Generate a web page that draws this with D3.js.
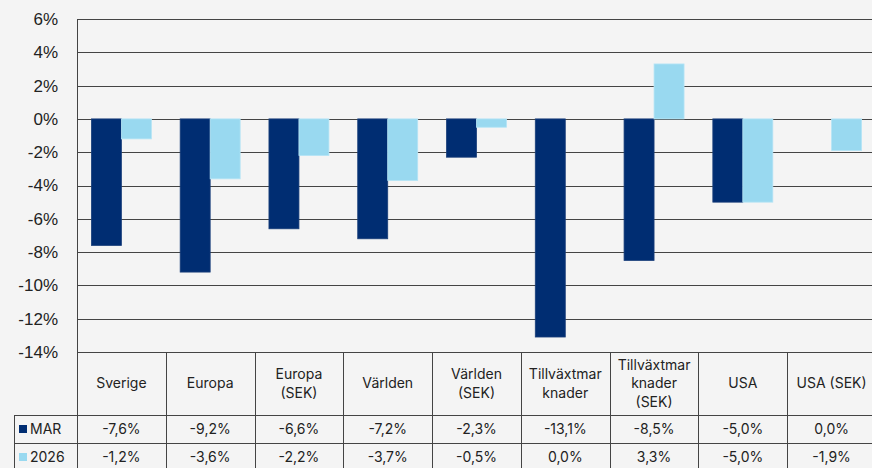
<!DOCTYPE html>
<html>
<head>
<meta charset="utf-8">
<script src="https://cdn.jsdelivr.net/npm/d3@7"></script>
<style>
  body { margin: 0; background: #f4f4f4; overflow: hidden; }
  svg { display: block; }
</style>
</head>
<body>
<div id="chart"></div>
<script>
// Chart size
const width = 872;
const height = 468;
const margin = {left: 77, right: -4, top: 19, bottom: 116};

// Data
const categories = [
  ["Sverige"], ["Europa"], ["Europa", "(SEK)"], ["Världen"], ["Världen", "(SEK)"],
  ["Tillväxtmar", "knader"], ["Tillväxtmar", "knader", "(SEK)"], ["USA"], ["USA (SEK)"]
];
const seriesNames = ["MAR", "2026"];
const marValues = [-7.6, -9.2, -6.6, -7.2, -2.3, -13.1, -8.5, -5.0, 0.0];
const y2026Values = [-1.2, -3.6, -2.2, -3.7, -0.5, 0.0, 3.3, -5.0, -1.9];
const yTicks = [6, 4, 2, 0, -2, -4, -6, -8, -10, -12, -14];
const colors = ["#002d72", "#99d9f0"];

const series = [marValues, y2026Values];
const fmt = v => v.toFixed(1).replace(".", ",") + "%";

const svg = d3.select("#chart")
  .append("svg")
  .attr("width", width)
  .attr("height", height);

// Scales
const yScale = d3.scaleLinear()
  .domain([-14, 6])
  .range([height - margin.bottom, margin.top]);

const xScale = d3.scaleBand()
  .domain(d3.range(categories.length))
  .range([margin.left, width - margin.right]);

const xInner = d3.scaleBand()
  .domain(d3.range(series.length))
  .range([0, xScale.bandwidth()])
  .paddingOuter(0.48);

// Gridlines
svg.append("g")
  .selectAll("line")
  .data(yTicks)
  .join("line")
    .attr("x1", margin.left)
    .attr("x2", width)
    .attr("y1", d => Math.round(yScale(d)) + 0.5)
    .attr("y2", d => Math.round(yScale(d)) + 0.5)
    .attr("stroke", "#444")
    .attr("stroke-width", 1);

// Y axis labels
const yAxis = svg.append("g")
  .attr("transform", `translate(${margin.left}, 0)`)
  .call(d3.axisLeft(yScale).tickValues(yTicks).tickSize(0).tickPadding(19).tickFormat(d => d + "%"));
yAxis.select(".domain").remove();
yAxis.selectAll("text")
  .attr("font-family", "Liberation Sans, Arial, sans-serif")
  .attr("font-size", "17px")
  .attr("fill", "#222");

// Bars
series.forEach((vals, s) => {
  svg.append("g")
    .selectAll("rect")
    .data(vals)
    .join("rect")
      .attr("x", (d, i) => xScale(i) + xInner(s))
      .attr("width", xInner.bandwidth())
      .attr("y", d => yScale(Math.max(0, d)))
      .attr("height", d => Math.abs(yScale(d) - yScale(0)))
      .attr("fill", colors[s])
      .attr("stroke", s === 0 ? "#1a3f7a" : "#b5e4f5")
      .attr("stroke-width", 0.8);
});

// Left axis line
svg.append("line")
  .attr("x1", margin.left + 0.5).attr("x2", margin.left + 0.5)
  .attr("y1", yScale(6)).attr("y2", height)
  .attr("stroke", "#444");

// Data table
const tableTop = yScale(-14);
const headerBottom = 415;
const rowH = 28;
const rowTops = [headerBottom, headerBottom + rowH];
const legendLeft = 14;
const tableFont = "Inter, 'Noto Sans', sans-serif";

const table = svg.append("g").attr("font-family", tableFont).attr("fill", "#222");

// Vertical lines between columns
table.selectAll(".vline")
  .data(d3.range(categories.length + 1))
  .join("line")
    .attr("class", "vline")
    .attr("x1", i => Math.round(margin.left + i * xScale.bandwidth()) + 0.5)
    .attr("x2", i => Math.round(margin.left + i * xScale.bandwidth()) + 0.5)
    .attr("y1", tableTop)
    .attr("y2", height)
    .attr("stroke", "#444");

// Horizontal lines
[headerBottom, headerBottom + rowH].forEach(y => {
  table.append("line")
    .attr("x1", legendLeft).attr("x2", width)
    .attr("y1", y + 0.5).attr("y2", y + 0.5)
    .attr("stroke", "#444");
});
table.append("line")
  .attr("x1", legendLeft + 0.5).attr("x2", legendLeft + 0.5)
  .attr("y1", headerBottom).attr("y2", height)
  .attr("stroke", "#444");

// Category labels
const lineH = 18.5;
categories.forEach((lines, i) => {
  const cx = xScale(i) + xScale.bandwidth() / 2;
  const cy = (tableTop + headerBottom) / 2;
  const t = table.append("text")
    .attr("text-anchor", "middle")
    .attr("font-size", "14px");
  lines.forEach((ln, k) => {
    t.append("tspan")
      .attr("x", cx)
      .attr("y", cy + (k - (lines.length - 1) / 2) * lineH)
      .attr("dy", "0.35em")
      .text(ln);
  });
});

// Series rows
series.forEach((vals, s) => {
  const cy = rowTops[s] + rowH / 2;
  table.append("rect")
    .attr("x", 19).attr("y", cy - 4)
    .attr("width", 8).attr("height", 8)
    .attr("fill", colors[s]);
  table.append("text")
    .attr("x", 30).attr("y", cy).attr("dy", "0.35em")
    .attr("font-size", "14px")
    .text(seriesNames[s]);
  table.selectAll(null)
    .data(vals)
    .join("text")
      .attr("x", (d, i) => xScale(i) + xScale.bandwidth() / 2)
      .attr("y", cy)
      .attr("dy", "0.35em")
      .attr("text-anchor", "middle")
      .attr("font-size", "14px")
      .text(d => fmt(d));
});
</script>
</body>
</html>
